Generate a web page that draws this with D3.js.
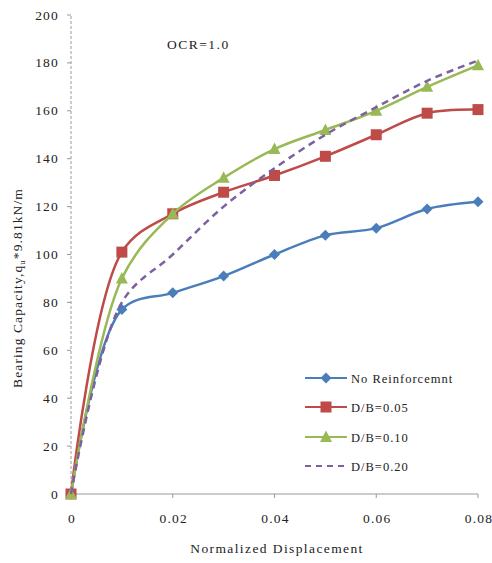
<!DOCTYPE html>
<html>
<head>
<meta charset="utf-8">
<script src="https://cdn.jsdelivr.net/npm/d3@7"></script>
<style>
  body { margin: 0; background: #fff; }
  svg text { font-family: "Liberation Serif", "Times New Roman", Times, serif; fill: #222; letter-spacing: 1.2px; }
</style>
</head>
<body>
<div id="chart"></div>
<script>
const displacement = [0, 0.01, 0.02, 0.03, 0.04, 0.05, 0.06, 0.07, 0.08];
const noReinf = [0, 77, 84, 91, 100, 108, 111, 119, 122];
const db005 = [0, 101, 117, 126, 133, 141, 150, 159, 160.5];
const db010 = [0, 90, 117, 132, 144, 152, 160, 170, 179];
const db020 = [0, 80, 100, 120, 136, 150, 161.5, 172.5, 181];
const xTicks = [0, 0.02, 0.04, 0.06, 0.08];
const yTicks = [0, 20, 40, 60, 80, 100, 120, 140, 160, 180, 200];

const series = [
  {name: "No Reinforcemnt", values: noReinf, color: "#4A7EBB", marker: "diamond", dash: null},
  {name: "D/B=0.05", values: db005, color: "#BE4B48", marker: "square", dash: null},
  {name: "D/B=0.10", values: db010, color: "#98B954", marker: "triangle", dash: null},
  {name: "D/B=0.20", values: db020, color: "#7D60A0", marker: null, dash: "7,5"}
];

const width = 492, height = 563;
const x = d3.scaleLinear().domain([0, 0.08]).range([71, 478]);
const y = d3.scaleLinear().domain([0, 200]).range([494, 15]);

const svg = d3.select("#chart").append("svg")
    .attr("width", width)
    .attr("height", height);

// y axis (dashed gray line with small ticks)
svg.append("line")
    .attr("x1", x(0)).attr("x2", x(0))
    .attr("y1", y(0)).attr("y2", y(200))
    .attr("stroke", "#999").attr("stroke-dasharray", "3,2");
svg.selectAll(".ytick").data(yTicks).enter().append("line")
    .attr("x1", x(0) - 4).attr("x2", x(0))
    .attr("y1", d => y(d)).attr("y2", d => y(d))
    .attr("stroke", "#999");
svg.selectAll(".ylab").data(yTicks).enter().append("text")
    .attr("x", x(0) - 12).attr("y", d => y(d) + 4.5)
    .attr("text-anchor", "end")
    .attr("font-size", 13.5)
    .text(d => d);

// x axis
svg.append("line")
    .attr("x1", x(0)).attr("x2", x(0.08))
    .attr("y1", y(0)).attr("y2", y(0))
    .attr("stroke", "#999");
svg.selectAll(".xtick").data(xTicks).enter().append("line")
    .attr("x1", d => x(d)).attr("x2", d => x(d))
    .attr("y1", y(0)).attr("y2", y(0) + 4)
    .attr("stroke", "#999");
svg.selectAll(".xlab").data(xTicks).enter().append("text")
    .attr("x", d => x(d) + 1).attr("y", y(0) + 29)
    .attr("text-anchor", "middle")
    .attr("font-size", 13.5)
    .text(d => d);

// axis titles
svg.append("text")
    .attr("x", 277).attr("y", 553)
    .attr("text-anchor", "middle")
    .attr("font-size", 13.5)
    .style("letter-spacing", "1.4px")
    .text("Normalized Displacement");

const yTitle = svg.append("text")
    .attr("transform", "translate(22,288) rotate(-90)")
    .attr("text-anchor", "middle")
    .attr("font-size", 13.5)
    .style("letter-spacing", "1.1px");
yTitle.append("tspan").text("Bearing Capacity,q");
yTitle.append("tspan").attr("font-size", 9).attr("dy", 3).text("u");
yTitle.append("tspan").attr("dy", -3).text("*9.81kN/m");

svg.append("text")
    .attr("x", 167).attr("y", 49)
    .attr("font-size", 13.5)
    .style("letter-spacing", "1.5px")
    .text("OCR=1.0");

// lines
const line = d3.line()
    .x((d, i) => x(displacement[i]))
    .y(d => y(d))
    .curve(d3.curveCatmullRom.alpha(0.5));

function drawMarker(g, type, color, cx, cy) {
  if (type === "diamond") {
    g.append("path")
      .attr("d", `M${cx},${cy - 5.5}L${cx + 5.5},${cy}L${cx},${cy + 5.5}L${cx - 5.5},${cy}Z`)
      .attr("fill", color);
  } else if (type === "square") {
    g.append("rect")
      .attr("x", cx - 5.5).attr("y", cy - 5.5)
      .attr("width", 11).attr("height", 11)
      .attr("fill", color);
  } else if (type === "triangle") {
    g.append("path")
      .attr("d", `M${cx},${cy - 6.5}L${cx + 6},${cy + 5}L${cx - 6},${cy + 5}Z`)
      .attr("fill", color);
  }
}

series.forEach(s => {
  const g = svg.append("g");
  g.append("path")
    .datum(s.values)
    .attr("d", line)
    .attr("fill", "none")
    .attr("stroke", s.color)
    .attr("stroke-width", 2.5)
    .attr("stroke-dasharray", s.dash);
  if (s.marker) {
    s.values.forEach((v, i) => drawMarker(g, s.marker, s.color, x(displacement[i]), y(v)));
  }
});

// legend
const legendY = [378, 407, 437, 466];
series.forEach((s, i) => {
  const g = svg.append("g");
  const ly = legendY[i];
  g.append("line")
    .attr("x1", 305).attr("x2", 347)
    .attr("y1", ly).attr("y2", ly)
    .attr("stroke", s.color)
    .attr("stroke-width", 2)
    .attr("stroke-dasharray", s.dash ? "6,5" : null);
  if (s.marker) drawMarker(g, s.marker, s.color, 326, ly);
  g.append("text")
    .attr("x", 351).attr("y", ly + 4.5)
    .attr("font-size", 12.5)
    .style("letter-spacing", "1px")
    .text(s.name);
});
</script>
</body>
</html>
